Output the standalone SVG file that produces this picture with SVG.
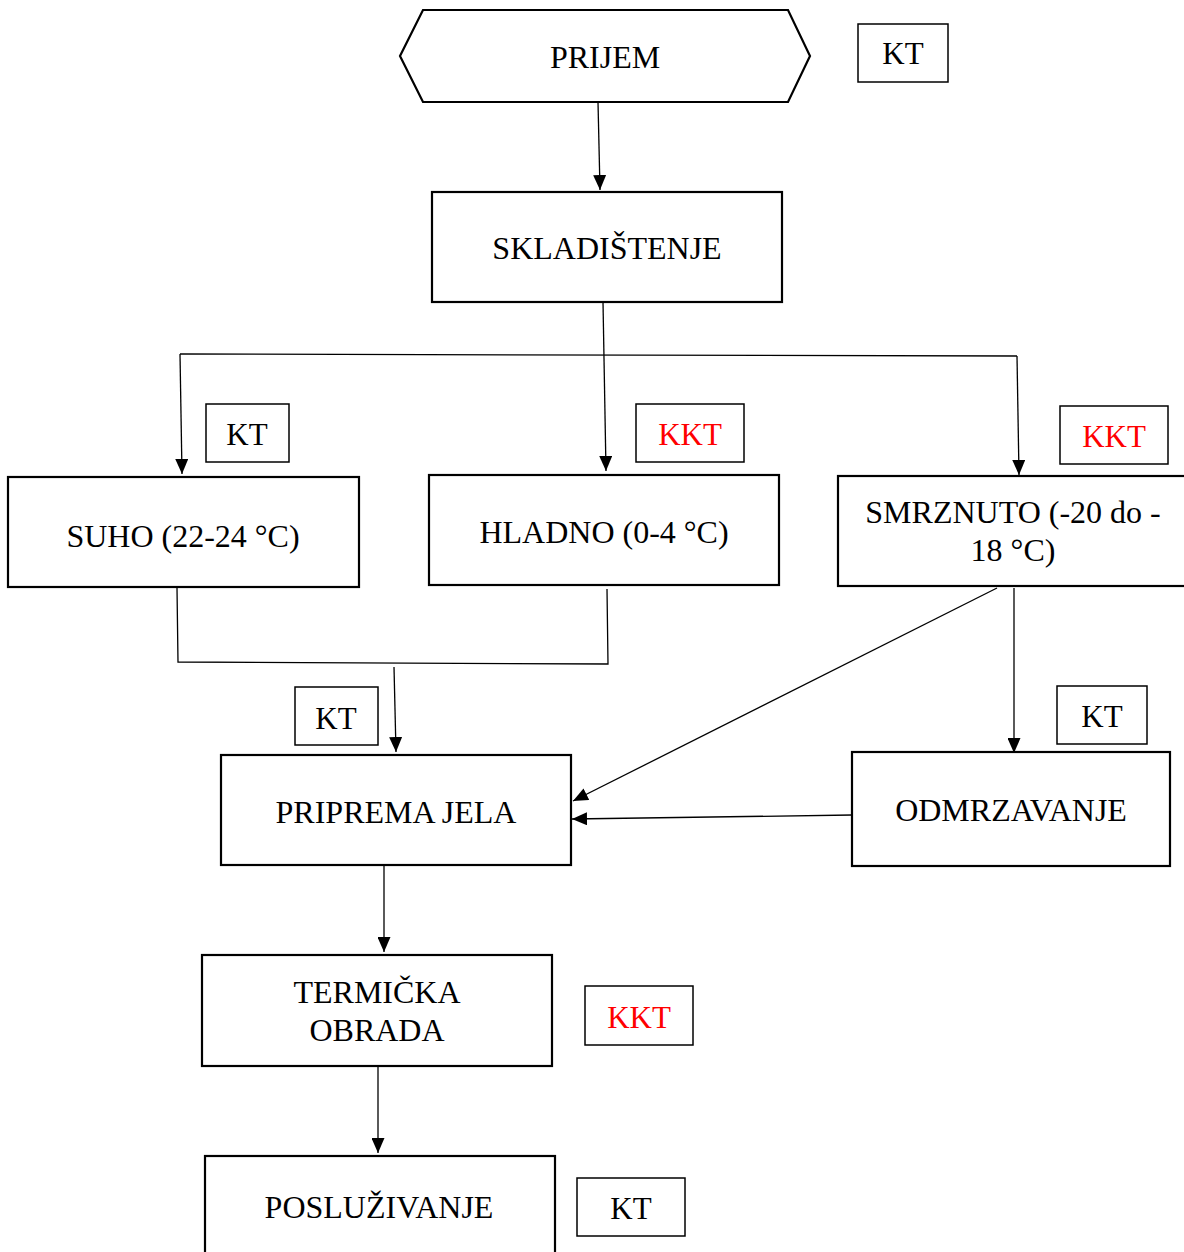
<svg xmlns="http://www.w3.org/2000/svg" width="1184" height="1252" viewBox="0 0 1184 1252">
<defs>
<marker id="ah" viewBox="0 0 15 13" refX="15" refY="6.5" markerWidth="15" markerHeight="13" markerUnits="userSpaceOnUse" orient="auto">
<path d="M0,0 L15,6.5 L0,13 Z" fill="#000"/>
</marker>
<style>
.n{fill:#fff;stroke:#000;stroke-width:2.2}
.k{fill:#fff;stroke:#000;stroke-width:1.5}
.t{font-family:"Liberation Serif","Times New Roman",serif;font-size:31px;fill:#000;text-anchor:middle}
.m{font-size:32px}
.r{fill:#ff0000}
.c{fill:none;stroke:#000;stroke-width:1.3}
.a{marker-end:url(#ah)}
</style>
</defs>
<rect width="1184" height="1252" fill="#fff"/>
<g id="connectors">
<line class="c a" x1="598" y1="102" x2="600" y2="190"/>
<line class="c a" x1="603" y1="302" x2="606" y2="471"/>
<polyline class="c" points="180,354 1017,356"/>
<line class="c a" x1="180" y1="354" x2="182" y2="474"/>
<line class="c a" x1="1017" y1="356" x2="1019" y2="475"/>
<polyline class="c" points="177,588 178,662 608,664 607,589"/>
<line class="c a" x1="394" y1="667" x2="396" y2="752"/>
<line class="c a" x1="997" y1="588" x2="573" y2="801"/>
<line class="c a" x1="1014" y1="588" x2="1014" y2="753"/>
<line class="c a" x1="852" y1="815" x2="572" y2="819"/>
<line class="c a" x1="384" y1="866" x2="384" y2="952"/>
<line class="c a" x1="378" y1="1067" x2="378" y2="1153"/>
</g>
<g id="prijem">
<polygon class="n" points="400,56 423,10 788,10 810,56 788,102 423,102"/>
<text class="t m" x="605" y="68">PRIJEM</text>
</g>
<g id="kt-prijem">
<rect class="k" x="858" y="24" width="90" height="58"/>
<text class="t" x="903" y="64">KT</text>
</g>
<g id="skladistenje">
<rect class="n" x="432" y="192" width="350" height="110"/>
<text class="t m" x="607" y="259">SKLADIŠTENJE</text>
</g>
<g id="kt-suho">
<rect class="k" x="206" y="404" width="83" height="58"/>
<text class="t" x="247" y="445">KT</text>
</g>
<g id="kkt-hladno">
<rect class="k" x="636" y="404" width="108" height="58"/>
<text class="t r" x="690" y="445">KKT</text>
</g>
<g id="kkt-smrznuto">
<rect class="k" x="1060" y="406" width="108" height="58"/>
<text class="t r" x="1114" y="447">KKT</text>
</g>
<g id="suho">
<rect class="n" x="8" y="477" width="351" height="110"/>
<text class="t m" x="183" y="547">SUHO (22-24 °C)</text>
</g>
<g id="hladno">
<rect class="n" x="429" y="475" width="350" height="110"/>
<text class="t m" x="604" y="543">HLADNO (0-4 °C)</text>
</g>
<g id="smrznuto">
<rect class="n" x="838" y="476" width="360" height="110"/>
<text class="t m" x="1013" y="523">SMRZNUTO (-20 do -</text>
<text class="t m" x="1013" y="561">18 °C)</text>
</g>
<g id="kt-priprema">
<rect class="k" x="295" y="687" width="83" height="58"/>
<text class="t" x="336" y="729">KT</text>
</g>
<g id="kt-odmrzavanje">
<rect class="k" x="1057" y="686" width="90" height="58"/>
<text class="t" x="1102" y="727">KT</text>
</g>
<g id="priprema">
<rect class="n" x="221" y="755" width="350" height="110"/>
<text class="t m" x="396" y="823">PRIPREMA JELA</text>
</g>
<g id="odmrzavanje">
<rect class="n" x="852" y="752" width="318" height="114"/>
<text class="t m" x="1011" y="821">ODMRZAVANJE</text>
</g>
<g id="termicka">
<rect class="n" x="202" y="955" width="350" height="111"/>
<text class="t m" x="377" y="1003">TERMIČKA</text>
<text class="t m" x="377" y="1041">OBRADA</text>
</g>
<g id="kkt-termicka">
<rect class="k" x="585" y="986" width="108" height="59"/>
<text class="t r" x="639" y="1028">KKT</text>
</g>
<g id="posluzivanje">
<rect class="n" x="205" y="1156" width="350" height="110"/>
<text class="t m" x="379" y="1218">POSLUŽIVANJE</text>
</g>
<g id="kt-posluzivanje">
<rect class="k" x="577" y="1178" width="108" height="58"/>
<text class="t" x="631" y="1219">KT</text>
</g>
</svg>
